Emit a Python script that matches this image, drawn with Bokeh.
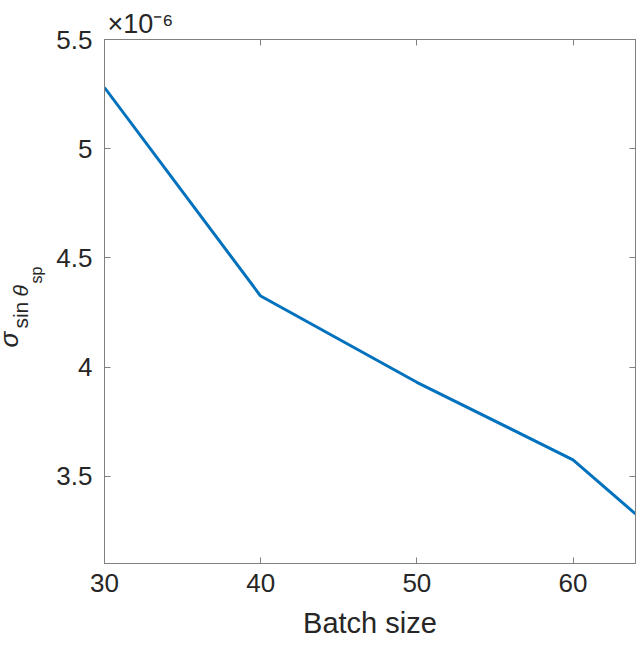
from bokeh.plotting import figure
from bokeh.layouts import row
from bokeh.models import (Range1d, FixedTicker, LinearAxis,
                          CustomJSTickFormatter)
from bokeh.core.properties import value
from bokeh.embed import file_html
from bokeh.resources import INLINE
import math

# ---- data ----
batch_size = [30, 40, 50, 60, 64]
sigma_sin_theta_sp = [5.28e-6, 4.325e-6, 3.93e-6, 3.575e-6, 3.327e-6]

x_ticks = [30, 40, 50, 60]
y_ticks = [3.5e-6, 4.0e-6, 4.5e-6, 5.0e-6, 5.5e-6]
x_limits = (30, 64)
y_limits = (3.1e-6, 5.5e-6)

x_label = "Batch size"
exponent_text = "×10⁻⁶"
ylabel_parts = ["σ", "sin", "θ", "sp"]

TEXT = "#262626"
AXC = "#808080"
FONT = "Liberation Sans"

W, H = 636, 641          # total canvas
LEFT_W = 50              # strip holding the y-axis title
MAIN_W = W - LEFT_W

# ---------------- main plot ----------------
p = figure(width=MAIN_W, height=H, output_backend="svg",
           toolbar_location=None,
           x_range=Range1d(*x_limits), y_range=Range1d(*y_limits),
           min_border_left=104 - LEFT_W, min_border_right=1,
           min_border_top=39, min_border_bottom=78,
           x_axis_type=None, y_axis_type=None)
p.background_fill_color = "white"
p.border_fill_color = "white"
p.outline_line_color = AXC
p.outline_line_width = 1
p.grid.visible = False

# exponent multiplier shown above the frame
p.title.text = exponent_text
p.title.align = "left"
p.title.offset = 3
p.title.standoff = 1
p.title.text_font = FONT
p.title.text_font_size = "27px"
p.title.text_font_style = "normal"
p.title.text_color = TEXT


def style_axis(ax, show_labels, standoff):
    ax.axis_line_color = AXC
    ax.major_tick_line_color = AXC
    ax.major_tick_in = 6
    ax.major_tick_out = 0
    ax.minor_tick_line_color = None
    ax.major_label_standoff = standoff
    if show_labels:
        ax.major_label_text_font = FONT
        ax.major_label_text_font_size = "26px"
        ax.major_label_text_color = TEXT
    else:
        ax.major_label_text_font_size = "1px"
        ax.major_label_text_alpha = 0
        ax.formatter = CustomJSTickFormatter(code="return '';")


xb = LinearAxis(ticker=FixedTicker(ticks=x_ticks), axis_label=x_label)
style_axis(xb, True, 10)
xb.axis_label_text_font = FONT
xb.axis_label_text_font_size = "29px"
xb.axis_label_text_font_style = "normal"
xb.axis_label_text_color = TEXT
xb.axis_label_standoff = 12
p.add_layout(xb, "below")

yl = LinearAxis(ticker=FixedTicker(ticks=y_ticks),
                formatter=CustomJSTickFormatter(
                    code="var v = Math.round(tick*1e7)/10; return String(v);"))
style_axis(yl, True, 12)
p.add_layout(yl, "left")

xt = LinearAxis(ticker=FixedTicker(ticks=x_ticks))
style_axis(xt, False, 0)
p.add_layout(xt, "above")

yr = LinearAxis(ticker=FixedTicker(ticks=y_ticks))
style_axis(yr, False, 0)
p.add_layout(yr, "right")

p.line(batch_size, sigma_sin_theta_sp, line_color="#0072BD", line_width=3)

# ---------------- left strip: sigma_{sin theta_{sp}} ----------------
# shares the main y range (the row aligns both frames vertically)
left = figure(width=LEFT_W, height=H, output_backend="svg",
              toolbar_location=None,
              x_range=Range1d(0, LEFT_W), y_range=p.y_range,
              x_axis_type=None, y_axis_type=None, min_border=0,
              min_border_top=39, min_border_bottom=78)
left.outline_line_color = None
left.grid.visible = False
left.background_fill_color = "white"
left.border_fill_color = "white"

# reference frame pixels -> y data value (for placing the title pieces)
REF_TOP, REF_BOTTOM = 39, 575
def py_to_y(py):
    return y_limits[1] - (py - REF_TOP) * (y_limits[1] - y_limits[0]) / (REF_BOTTOM - REF_TOP)

ang = math.pi / 2
# (centre x in px, centre y in reference px, size, style) of each rotated piece
part_pos = [(8, 346, 26, "italic"), (20, 321, 21, "normal"),
            (20, 296, 21, "italic"), (35.5, 280, 16, "normal")]
for txt, (cx, cy, sz, st) in zip(ylabel_parts, part_pos):
    left.text(x=[cx], y=[py_to_y(cy)], text=[txt], angle=ang,
              text_font=value(FONT), text_font_size=value(f"{sz}px"),
              text_font_style=st, text_color=TEXT,
              text_align="center", text_baseline="middle")

layout = row(left, p, spacing=0)
open("out.html", "w").write(file_html(layout, INLINE))
